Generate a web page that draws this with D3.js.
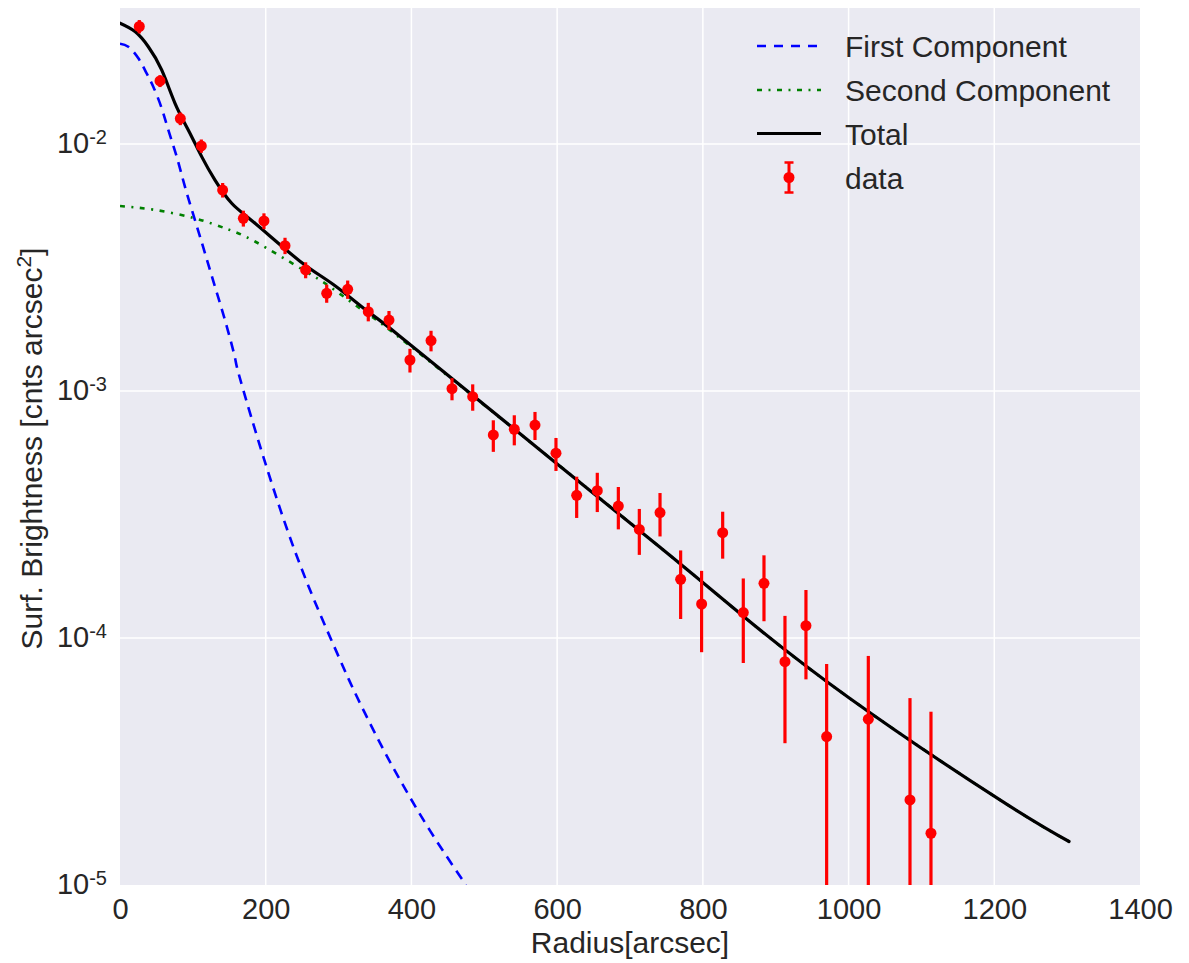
<!DOCTYPE html>
<html>
<head>
<meta charset="utf-8">
<script src="https://cdn.jsdelivr.net/npm/d3@7"></script>
<style>
  html, body { margin: 0; padding: 0; background: #ffffff; }
  svg { display: block; }
  text { font-family: "Liberation Sans", Arial, sans-serif; fill: #262626; }
</style>
</head>
<body>
<div id="chart"></div>
<script>
// ---------------- data ----------------
const radius = [26.5, 54.9, 82.8, 111.6, 140.9, 169.3, 197.6, 226.5, 254.8, 283.7, 312.5, 340.8, 369.2, 398.0, 426.9, 455.7, 484.1, 512.4, 541.2, 569.6, 598.4, 626.8, 655.1, 684.0, 712.8, 741.2, 769.5, 798.3, 827.2, 855.5, 883.9, 912.7, 941.5, 969.9, 1027.1, 1084.3, 1113.1];
const brightness = [0.0299, 0.0180, 0.01267, 0.00982, 0.00651, 0.00500, 0.00488, 0.003877, 0.00309, 0.002486, 0.00258, 0.002094, 0.001938, 0.001335, 0.00160, 0.001022, 0.000948, 0.000664, 0.000700, 0.000728, 0.000560, 0.000378, 0.000395, 0.000342, 0.000275, 0.000322, 0.0001728, 0.0001373, 0.000267, 0.0001267, 0.0001665, 0.0000802, 0.0001122, 0.0000399, 0.0000469, 0.0000221, 0.0000162];
const brightnessErr = [0.00186, 0.0010, 0.00075, 0.00061, 0.00044, 0.00037, 0.00036, 0.000295, 0.00023, 0.00021, 0.00022, 0.00018, 0.00017, 0.000147, 0.000153, 0.000105, 0.000116, 0.000097, 0.0000975, 0.0000946, 0.0000855, 0.0000718, 0.0000715, 0.0000667, 0.000058, 0.0000643, 0.0000534, 0.0000497, 0.0000575, 0.0000475, 0.0000496, 0.0000427, 0.0000442, 0.0000386, 0.0000377, 0.000035, 0.0000341];

const firstR = [0, 11.4, 25.2, 36.6, 45.7, 57.2, 66.3, 77.8, 89.2, 102.9, 116.7, 130.4, 144.1, 157.8, 169.2, 230, 289.6, 320.2, 352.3, 382, 425.5, 474.9];
const firstVal = [0.02547, 0.02477, 0.02223, 0.01932, 0.01706, 0.01396, 0.01140, 0.00889, 0.00671, 0.00492, 0.00361, 0.00264, 0.001936, 0.001365, 0.001009, 0.000272, 0.0000989, 0.0000621, 0.0000399, 0.0000274, 0.0000166, 0.0000100];

const secondR = [0, 48, 102.9, 144.1, 185.3, 251.6, 288.2, 338.6, 382, 539.9, 741.2, 855.5, 1001.9, 1207.8, 1302.6];
const secondVal = [0.00561, 0.00541, 0.00500, 0.00456, 0.00403, 0.00309, 0.002642, 0.002065, 0.00166, 0.000705, 0.000233, 0.0001225, 0.0000569, 0.0000221, 0.0000150];

const totalR = [0, 20.6, 38.9, 57.2, 75.5, 93.7, 112.1, 130.4, 153.3, 185.3, 247, 292.8, 338.6, 382, 539.9, 741.2, 855.5, 1001.9, 1207.8, 1302.6];
const totalVal = [0.03083, 0.02851, 0.02477, 0.01995, 0.01462, 0.01140, 0.00889, 0.007145, 0.005754, 0.004775, 0.003354, 0.002698, 0.002115, 0.001687, 0.000706, 0.0002328, 0.0001225, 0.0000569, 0.0000221, 0.0000150];

const xTicks = [0, 200, 400, 600, 800, 1000, 1200, 1400];
const yTicks = [1e-5, 1e-4, 1e-3, 1e-2];
const yTickExp = ["-5", "-4", "-3", "-2"];
const legendLabels = ["First Component", "Second Component", "Total", "data"];

// ---------------- layout ----------------
const W = 1189, H = 963;
const pL = 120, pR = 1140, pT = 8, pB = 885;
const FS = 29;
const FONT = '"Liberation Sans", Arial, sans-serif';

const svg = d3.select("#chart").append("svg").attr("width", W).attr("height", H);

const x = d3.scaleLinear().domain([0, 1400]).range([pL, pR]);
const y = d3.scaleLog().domain([1e-5, 0.03553]).range([pB, pT]);

svg.append("rect").attr("x", pL).attr("y", pT)
  .attr("width", pR - pL).attr("height", pB - pT).attr("fill", "#EAEAF2");

svg.append("defs").append("clipPath").attr("id", "clip")
  .append("rect").attr("x", pL).attr("y", pT).attr("width", pR - pL).attr("height", pB - pT);

// grid
const grid = svg.append("g");
grid.selectAll("line.gx").data(xTicks.filter(d => d > 0 && d < 1400)).enter().append("line")
  .attr("x1", d => x(d)).attr("x2", d => x(d)).attr("y1", pT).attr("y2", pB)
  .attr("stroke", "#ffffff").attr("stroke-width", 1.5);
grid.selectAll("line.gy").data(yTicks.filter(d => d > 1e-5)).enter().append("line")
  .attr("x1", pL).attr("x2", pR).attr("y1", d => y(d)).attr("y2", d => y(d))
  .attr("stroke", "#ffffff").attr("stroke-width", 1.5);

// x axis labels
const xAxis = d3.axisBottom(x).tickValues(xTicks).tickSize(0).tickPadding(0).tickFormat(d3.format("d"));
const gx = svg.append("g").attr("transform", `translate(0,${pB})`).call(xAxis);
gx.select(".domain").remove();
gx.selectAll("text").attr("y", 34).attr("dy", null).style("font-size", FS + "px")
  .style("font-family", FONT).attr("fill", "#262626");

// y axis labels with superscripts
const yAxis = d3.axisLeft(y).tickValues(yTicks).tickSize(0).tickFormat(() => "");
const gy = svg.append("g").attr("transform", `translate(${pL},0)`).call(yAxis);
gy.select(".domain").remove();
gy.selectAll(".tick text").each(function(d, i) {
  const t = d3.select(this);
  t.attr("x", -13).attr("dy", null).attr("y", 8.5).attr("text-anchor", "end")
    .style("font-size", FS + "px").style("font-family", FONT).attr("fill", "#262626");
  t.append("tspan").text("10");
  t.append("tspan").attr("dy", -9).style("font-size", "20px").text(yTickExp[i]);
});

// axis titles
svg.append("text").attr("x", (pL + pR) / 2).attr("y", 953).attr("text-anchor", "middle")
  .style("font-size", "30px").text("Radius[arcsec]");
const yl = svg.append("text").attr("transform", `translate(42,${(pT + pB) / 2 + 2}) rotate(-90)`)
  .attr("text-anchor", "middle").style("font-size", "30px");
yl.append("tspan").text("Surf. Brightness [cnts arcsec");
yl.append("tspan").attr("dy", -11).style("font-size", "21px").text("2");
yl.append("tspan").attr("dy", 11).text("]");

// curves
const plot = svg.append("g").attr("clip-path", "url(#clip)");
const line = d3.line().x(d => x(d[0])).y(d => y(d[1])).curve(d3.curveNatural);
const zip = (a, b) => a.map((v, i) => [v, b[i]]);

plot.append("path").datum(zip(firstR, firstVal)).attr("d", line)
  .attr("fill", "none").attr("stroke", "#0000ff").attr("stroke-width", 2.6).attr("stroke-dasharray", "10,7");
plot.append("path").datum(zip(secondR, secondVal)).attr("d", line)
  .attr("fill", "none").attr("stroke", "#008000").attr("stroke-width", 2.6).attr("stroke-dasharray", "5,6.5,2,6.5");
plot.append("path").datum(zip(totalR, totalVal)).attr("d", line)
  .attr("fill", "none").attr("stroke", "#000000").attr("stroke-width", 3.2).attr("stroke-linecap", "round");

// error bars + points
const pts = radius.map((r, i) => ({ r, v: brightness[i], e: brightnessErr[i] }));
plot.selectAll("line.err").data(pts).enter().append("line")
  .attr("x1", d => x(d.r)).attr("x2", d => x(d.r))
  .attr("y1", d => y(d.v + d.e))
  .attr("y2", d => (d.v - d.e) > 1e-7 ? y(d.v - d.e) : pB + 20)
  .attr("stroke", "#ff0000").attr("stroke-width", 3.2);
plot.selectAll("circle.pt").data(pts).enter().append("circle")
  .attr("cx", d => x(d.r)).attr("cy", d => y(d.v)).attr("r", 5.5).attr("fill", "#ff0000");

// legend
const lg = svg.append("g");
const rowsY = [46, 90, 133.5, 177.5];
const lx1 = 757, lx2 = 821, tx = 845;
lg.append("line").attr("x1", lx1).attr("x2", lx2).attr("y1", rowsY[0]).attr("y2", rowsY[0])
  .attr("stroke", "#0000ff").attr("stroke-width", 2.6).attr("stroke-dasharray", "9,8");
lg.append("line").attr("x1", lx1).attr("x2", lx2).attr("y1", rowsY[1]).attr("y2", rowsY[1])
  .attr("stroke", "#008000").attr("stroke-width", 2.6).attr("stroke-dasharray", "5,6.5,2,6.5");
lg.append("line").attr("x1", lx1).attr("x2", lx2).attr("y1", rowsY[2]).attr("y2", rowsY[2])
  .attr("stroke", "#000000").attr("stroke-width", 3.2);
const mx = (lx1 + lx2) / 2;
lg.append("line").attr("x1", mx).attr("x2", mx).attr("y1", rowsY[3] - 15).attr("y2", rowsY[3] + 15)
  .attr("stroke", "#ff0000").attr("stroke-width", 3);
lg.append("line").attr("x1", mx - 4.5).attr("x2", mx + 4.5).attr("y1", rowsY[3] - 15).attr("y2", rowsY[3] - 15)
  .attr("stroke", "#ff0000").attr("stroke-width", 2.5);
lg.append("line").attr("x1", mx - 4.5).attr("x2", mx + 4.5).attr("y1", rowsY[3] + 15).attr("y2", rowsY[3] + 15)
  .attr("stroke", "#ff0000").attr("stroke-width", 2.5);
lg.append("circle").attr("cx", mx).attr("cy", rowsY[3]).attr("r", 5.5).attr("fill", "#ff0000");
lg.selectAll("text.lt").data(legendLabels).enter().append("text")
  .attr("x", tx).attr("y", (d, i) => rowsY[i] + 11).style("font-size", "30px").text(d => d);
</script>
</body>
</html>
